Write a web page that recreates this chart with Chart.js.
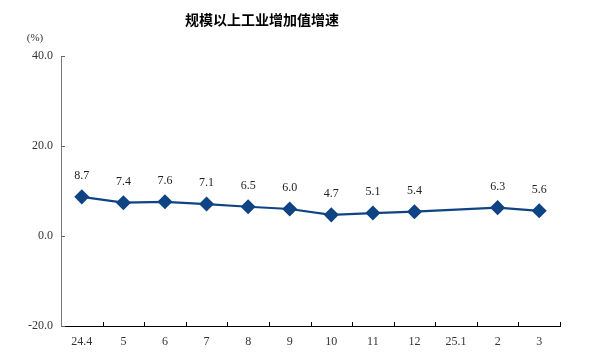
<!DOCTYPE html>
<html>
<head>
<meta charset="utf-8">
<script src="https://cdn.jsdelivr.net/npm/chart.js@4/dist/chart.umd.min.js"></script>
<style>
  html, body { margin: 0; padding: 0; background: #fff; }
  #wrap { width: 600px; height: 358px; position: relative; }
</style>
</head>
<body>
<div id="wrap"><canvas id="myChart"></canvas></div>
<script>
const months = ['24.4', '5', '6', '7', '8', '9', '10', '11', '12', '25.1', '2', '3'];
const growth = [8.7, 7.4, 7.6, 7.1, 6.5, 6.0, 4.7, 5.1, 5.4, null, 6.3, 5.6];
const yTicks = [-20, 0, 20, 40];

const serif = '"Liberation Serif", "DejaVu Serif", serif';

// title, unit label, inward ticks and point labels
const extras = {
  id: 'extras',
  afterDraw(chart) {
    const ctx = chart.ctx;
    const x = chart.scales.x, y = chart.scales.y;
    const area = chart.chartArea;
    ctx.save();
    ctx.fillStyle = '#000';
    ctx.font = 'bold 14px "Noto Sans CJK SC"';
    ctx.textAlign = 'center';
    ctx.textBaseline = 'middle';
    ctx.fillText('规模以上工业增加值增速', 262, 20);

    ctx.font = '11px ' + serif;
    ctx.fillStyle = '#333';
    ctx.fillText('(%)', 35, 38);

    // y ticks pointing inward
    ctx.strokeStyle = '#666';
    ctx.lineWidth = 1;
    yTicks.forEach(v => {
      const py = Math.round(y.getPixelForValue(v)) + 0.5;
      ctx.beginPath();
      ctx.moveTo(area.left, py);
      ctx.lineTo(area.left + 4, py);
      ctx.stroke();
    });
    // x ticks between categories, pointing up
    ctx.strokeStyle = '#000';
    for (let i = 0; i < months.length; i++) {
      const px = Math.round(x.getPixelForValue(i + 0.5)) + 0.5;
      ctx.beginPath();
      ctx.moveTo(px, area.bottom);
      ctx.lineTo(px, area.bottom - 4);
      ctx.stroke();
    }

    // value labels
    const meta = chart.getDatasetMeta(0);
    ctx.font = '12px ' + serif;
    ctx.fillStyle = '#222';
    meta.data.forEach((pt, i) => {
      if (growth[i] === null) return;
      ctx.fillText(growth[i].toFixed(1), pt.x, pt.y - 21);
    });
    ctx.restore();
  }
};

new Chart(document.getElementById('myChart'), {
  type: 'line',
  data: {
    labels: months,
    datasets: [{
      data: growth,
      borderColor: '#0f4484',
      backgroundColor: '#0f4484',
      borderWidth: 2.2,
      pointStyle: 'rectRot',
      pointRadius: 6,
      pointHoverRadius: 6,
      spanGaps: true,
      tension: 0
    }]
  },
  options: {
    responsive: true,
    maintainAspectRatio: false,
    animation: false,
    events: [],
    layout: { padding: { left: 0, right: 40, top: 56, bottom: 0 } },
    plugins: {
      legend: { display: false },
      tooltip: { enabled: false }
    },
    scales: {
      x: {
        offset: true,
        grid: { display: false, offset: true, tickLength: 0 },
        border: { color: '#000', width: 1 },
        ticks: { color: '#333', font: { family: serif, size: 12 }, padding: 9, maxRotation: 0, autoSkip: false },
        afterFit(s) { s.height = 32; }
      },
      y: {
        min: -20,
        max: 40,
        afterBuildTicks(s) { s.ticks = yTicks.map(v => ({ value: v })); },
        grid: { display: false, tickLength: 0 },
        border: { color: '#777', width: 1 },
        ticks: {
          color: '#333',
          font: { family: serif, size: 12 },
          padding: 8,
          callback: v => v.toFixed(1)
        },
        afterFit(s) { s.width = 61; }
      }
    }
  },
  plugins: [extras]
});
</script>
</body>
</html>
